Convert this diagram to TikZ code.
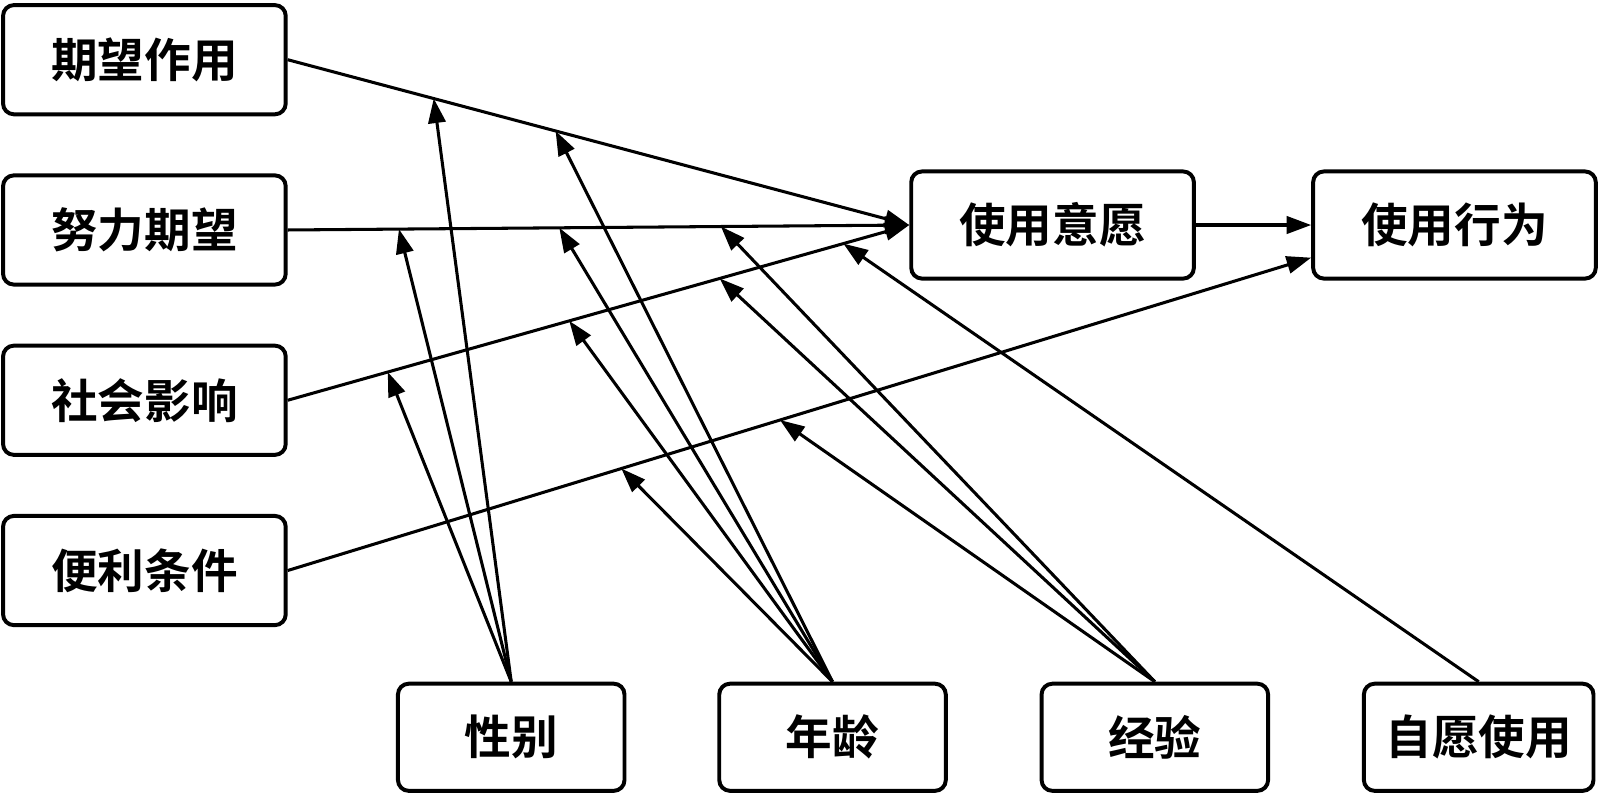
\documentclass[tikz,border=0pt]{standalone}
\usepackage{fontspec}
\newfontfamily\cjk{Noto Sans CJK SC}[BoldFont={Noto Sans CJK SC Bold}]
\usetikzlibrary{positioning, arrows.meta}
\tikzset{
  factor/.style={draw, line width=1.1pt, rounded corners=3pt, fill=white,
    minimum width=2.77cm, minimum height=1.07cm, inner sep=2pt,
    font=\cjk\bfseries\fontsize{13}{15}\selectfont, align=center},
  modbox/.style={factor, minimum width=2.22cm, minimum height=1.05cm},
  arr/.style={-{Triangle[length=2.4mm, width=1.7mm]}, line width=0.85pt},
}

\begin{document}
\begin{tikzpicture}
  \useasboundingbox (0,0) rectangle (15.68,-7.87);
  % core constructs
  \node[factor] (pe) at (1.415,-0.585) {期望作用};
  \node[factor, below=0.56cm of pe] (ee) {努力期望};
  \node[factor, below=0.56cm of ee] (si) {社会影响};
  \node[factor, below=0.56cm of si] (fc) {便利条件};
  \node[factor, minimum height=1.05cm] (bi) at (10.315,-2.205) {使用意愿};
  \node[factor, minimum height=1.05cm, right=1.13cm of bi] (ub) {使用行为};
  % moderators
  \node[modbox] (gender) at (5.01,-7.225) {性别};
  \node[modbox, right=0.89cm of gender] (age) {年龄};
  \node[modbox, right=0.90cm of age] (exp) {经验};
  \node[modbox, minimum width=2.25cm, right=0.90cm of exp] (vol) {自愿使用};
  \coordinate (ubin) at ([yshift=-3.2mm]ub.west);

  % main paths
  \draw[arr] (pe.east) -- (bi.west)
    coordinate[pos=0.235] (pe1) coordinate[pos=0.431] (pe2);
  \draw[arr] (ee.east) -- (bi.west)
    coordinate[pos=0.179] (ee1) coordinate[pos=0.437] (ee2) coordinate[pos=0.697] (ee3);
  \draw[arr] (si.east) -- (bi.west)
    coordinate[pos=0.161] (si1) coordinate[pos=0.453] (si2) coordinate[pos=0.695] (si3)
    coordinate[pos=0.894] (si4);
  \draw[arr] (fc.east) -- (ubin)
    coordinate[pos=0.326] (fc1) coordinate[pos=0.481] (fc2);
  \draw[arr] (bi.east) -- (ub.west);

  % moderating effects
  \foreach \src/\dst in {gender/pe1, gender/ee1, gender/si1,
      age/pe2, age/ee2, age/si2, age/fc1,
      exp/ee3, exp/si3, exp/fc2, vol/si4}
    \draw[arr] (\src.north) -- (\dst);
\end{tikzpicture}
\end{document}
